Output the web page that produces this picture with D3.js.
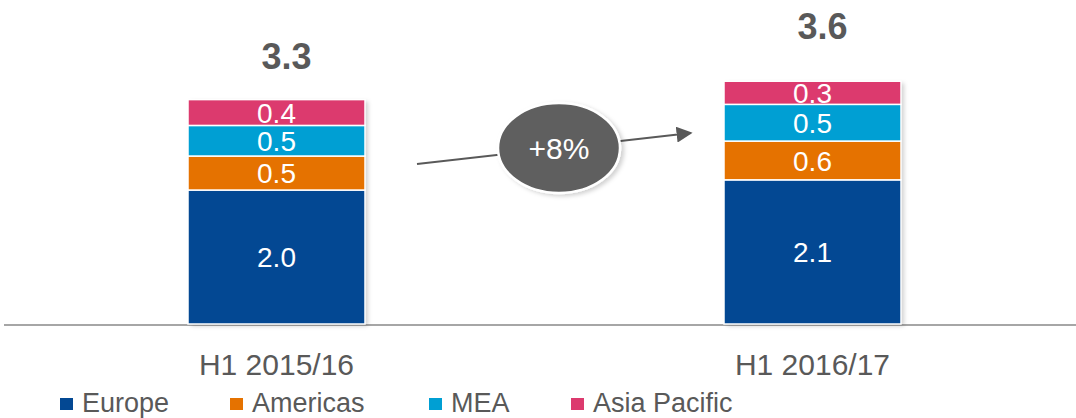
<!DOCTYPE html>
<html><head><meta charset="utf-8">
<script src="https://cdn.jsdelivr.net/npm/d3@7"></script>
<style>body{margin:0;background:#fff}svg{display:block;font-family:"Liberation Sans",Arial,sans-serif}</style>
</head><body><svg id="c" width="1076" height="418"></svg>
<script>
const categories = ["H1 2015/16", "H1 2016/17"];
const seriesNames = ["Europe", "Americas", "MEA", "Asia Pacific"];
const europe = [1.97, 2.12];
const americas = [0.50, 0.57];
const mea = [0.45, 0.54];
const asiaPacific = [0.38, 0.34];
const segmentLabels = [["2.0","0.5","0.5","0.4"],["2.1","0.6","0.5","0.3"]];
const totalLabels = ["3.3", "3.6"];
const growthLabel = "+8%";
const colors = ["#034893", "#e57200", "#009fd3", "#dc3a6e"];

const svg = d3.select("#c");
const defs = svg.append("defs");
const f = defs.append("filter").attr("id","sh").attr("x","-10%").attr("y","-10%").attr("width","130%").attr("height","130%");
f.append("feDropShadow").attr("dx",3).attr("dy",2).attr("stdDeviation",2).attr("flood-color","#000").attr("flood-opacity",0.18);
defs.append("marker").attr("id","arr").attr("viewBox","0 0 10 10").attr("refX",9).attr("refY",5)
  .attr("markerWidth",16).attr("markerHeight",16).attr("markerUnits","userSpaceOnUse").attr("orient","auto")
  .append("path").attr("d","M0,0L10,5L0,10Z").attr("fill","#595959");

const baseY = 324;
const y = d3.scaleLinear().domain([0, 4]).range([baseY, baseY - 272]);
const x = d3.scalePoint().domain(categories).range([276.5, 812.5]);
const barW = 177;

const rows = categories.map((c,i)=>({cat:c, Europe:europe[i], Americas:americas[i], MEA:mea[i], "Asia Pacific":asiaPacific[i]}));
const stacked = d3.stack().keys(seriesNames)(rows);

// axis line
svg.append("line").attr("x1",4).attr("x2",1076).attr("y1",baseY+1).attr("y2",baseY+1)
  .attr("stroke","#a6a6a6").attr("stroke-width",2);

// bars
const bars = svg.append("g");
categories.forEach((c,i)=>{
  const g = bars.append("g");
  g.append("rect").attr("x",x(c)-barW/2).attr("width",barW)
    .attr("y",y(stacked[3][i][1])).attr("height",baseY - y(stacked[3][i][1]))
    .attr("fill","#fff").attr("filter","url(#sh)");
  stacked.forEach((s,k)=>{
    const d = s[i];
    g.append("rect").attr("x",x(c)-barW/2).attr("width",barW)
      .attr("y",y(d[1])).attr("height",y(d[0])-y(d[1]))
      .attr("fill",colors[k]).attr("stroke","#fff").attr("stroke-width",1.5);
    g.append("text").attr("x",x(c)).attr("y",(y(d[0])+y(d[1]))/2)
      .attr("dy","0.36em").attr("text-anchor","middle").attr("fill","#fff")
      .attr("font-size",28).text(segmentLabels[i][k]);
  });
});

// totals
const totalOffsets = [31, 42];
categories.forEach((c,i)=>{
  svg.append("text").attr("x",x(c)+10).attr("y",y(stacked[3][i][1]) - totalOffsets[i])
    .attr("text-anchor","middle").attr("fill","#595959").attr("font-weight","bold")
    .attr("font-size",36).text(totalLabels[i]);
});

// category labels
categories.forEach(c=>{
  svg.append("text").attr("x",x(c)).attr("y",375).attr("text-anchor","middle")
    .attr("fill","#595959").attr("font-size",30).text(c);
});

// growth arrow
svg.append("line").attr("x1",417).attr("y1",164).attr("x2",691).attr("y2",133)
  .attr("stroke","#595959").attr("stroke-width",2).attr("marker-end","url(#arr)");
svg.append("ellipse").attr("cx",559).attr("cy",148).attr("rx",61).attr("ry",45)
  .attr("fill","#5f5f5f").attr("stroke","#fff").attr("stroke-width",2.5).attr("filter","url(#sh)");
svg.append("text").attr("x",559).attr("y",148).attr("dy","0.36em").attr("text-anchor","middle")
  .attr("fill","#fff").attr("font-size",30).text(growthLabel);

// legend
const legX = [60, 230, 429, 571];
seriesNames.forEach((n,k)=>{
  svg.append("rect").attr("x",legX[k]).attr("y",398).attr("width",13).attr("height",12).attr("fill",colors[k]);
  svg.append("text").attr("x",legX[k]+22).attr("y",412).attr("fill","#595959").attr("font-size",27).text(n);
});
</script></body></html>
